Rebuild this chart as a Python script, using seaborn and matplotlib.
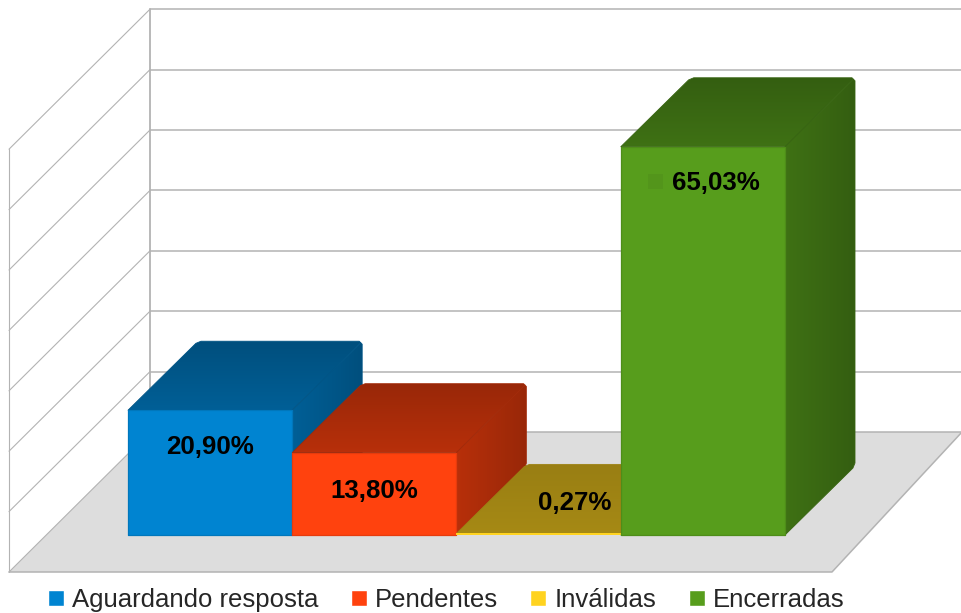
import numpy as np
import pandas as pd
import matplotlib
matplotlib.use("Agg")
import matplotlib.pyplot as plt
from matplotlib.colors import to_rgb
from matplotlib.patches import Polygon, Rectangle
import seaborn as sns

# ---- data ----
categories = ["Aguardando resposta", "Pendentes", "Inválidas", "Encerradas"]
values = [20.90, 13.80, 0.27, 65.03]
value_labels = ["20,90%", "13,80%", "0,27%", "65,03%"]
bar_colors = ["#0084d1", "#ff420e", "#ffd320", "#579d1c"]
grid_values = [0, 10, 20, 30, 40, 50, 60, 70]

# ---- layout (pixels) ----
W, H = 962, 613
PX_X, PX_Y = 164.25, 5.97     # pixels per category / per percentage point
BASE_X, BASE_Y = 128, 535     # front-left bar corner on the baseline
DEPTH = (70, 69)              # bar depth projection
WALL = (22, 103)              # back wall base relative to bar base
FLOOR_DEPTH = 141
GRID_PX = 60.4                # wall gridline spacing
CH = 3.0                      # size of the softened back corners
label_offsets = [(0, -37), (0, -38), (36, 30), (13, -36)]
front_shade = [0.72, 0.72, 0.65, 0.72]
edge_widths = [0.9, 0.9, 0.0, 0.9]
GRID = "#b3b3b3"

sns.set_theme(style="white")
plt.rcParams["font.family"] = ["Liberation Sans", "DejaVu Sans"]

fig = plt.figure(figsize=(W / 100, H / 100), dpi=100)
ax = fig.add_axes([0, 0, 1, 1])

df = pd.DataFrame({"categoria": categories, "valor": values})
sns.barplot(data=df, x="categoria", y="valor", hue="categoria", hue_order=categories,
            palette=bar_colors, width=1, saturation=1, dodge=False, legend=True, ax=ax)

xlim = (-0.5 - BASE_X / PX_X, -0.5 + (W - BASE_X) / PX_X)
ylim = (-(H - BASE_Y) / PX_Y, BASE_Y / PX_Y)


def shift(x, y, dx=0.0, dy=0.0):
    """Data coordinates moved by a projection offset in pixels (dy upward)."""
    return x + dx / PX_X, y + dy / PX_Y


# ---- walls and floor ----
wx0, wy0 = shift(-0.5, 0, WALL[0], WALL[1])
wx1 = xlim[1]
fx0, fy0 = shift(wx0, wy0, -FLOOR_DEPTH, -140)
fx1, _ = shift(wx1, wy0, -130, -140)
ax.add_patch(Polygon([(fx0, fy0), (wx0, wy0), (wx1, wy0), (fx1, fy0)], closed=True,
                     facecolor="#dddddd", edgecolor="none", zorder=1))
ax.plot([fx0, fx1, wx1], [fy0, fy0, wy0], color=GRID, lw=1.1, zorder=1.5)
grid_ys = [wy0 + g / 10 * GRID_PX / PX_Y for g in grid_values]
for gy in grid_ys:
    ax.plot([wx0, wx1], [gy, gy], color=GRID, lw=1.1, zorder=1.5)
    lx, ly = shift(wx0, gy, -FLOOR_DEPTH, -140)
    ax.plot([lx, wx0], [ly, gy], color=GRID, lw=0.8, zorder=1.5)
ax.plot([wx0, wx0], [grid_ys[0], grid_ys[-1]], color=GRID, lw=1.3, zorder=1.5)
top_left = shift(wx0, grid_ys[-1], -FLOOR_DEPTH, -140)
ax.plot([fx0, fx0], [fy0, top_left[1]], color=GRID, lw=0.8, zorder=1.5)


def shaded_face(poly, color, s0, s1, horizontal, z):
    """Face filled with a soft shade gradient from s0 to s1, clipped to the polygon."""
    pts = np.array(poly)
    t = np.linspace(s0, s1, 64)[:, None] * np.array(to_rgb(color))
    img = t[None, :, :] if horizontal else t[:, None, :]
    extent = (pts[:, 0].min(), pts[:, 0].max(), pts[:, 1].min(), pts[:, 1].max())
    im = ax.imshow(img, extent=extent, origin="lower", aspect="auto",
                   interpolation="bilinear", zorder=z)
    clip = Polygon(pts, closed=True, transform=ax.transData)
    im.set_clip_path(clip)
    edge = tuple(np.array(to_rgb(color)) * (s0 * 0.3 + s1 * 0.7))
    ax.add_patch(Polygon(pts, closed=True, facecolor="none", edgecolor=edge, lw=0.6,
                         joinstyle="round", zorder=z + 0.01))


# ---- bars: front faces come from seaborn, top and side are projected from them ----
bars = sorted([p for p in ax.patches if isinstance(p, Rectangle) and p.get_height() > 0],
              key=lambda p: p.get_x())
for i, bar in enumerate(bars):
    col = bar_colors[i]
    x0, x1 = bar.get_x(), bar.get_x() + bar.get_width()
    h = bar.get_height()
    z = 3 + i
    bx0, by0 = shift(x0, h, *DEPTH)
    bx1, by1 = shift(x1, h, *DEPTH)
    sx1, sy1 = shift(x1, 0, *DEPTH)
    mid = shift(bx1, by1, -CH / 2, -CH / 2)
    top_poly = [(x0, h), (x1, h), mid, shift(bx1, by1, -CH, 0),
                shift(bx0, by0, CH, 0), shift(bx0, by0, -CH * 0.7, -CH * 0.7)]
    side_poly = [(x1, 0), shift(sx1, sy1, -CH * 0.7, -CH * 0.7), shift(sx1, sy1, 0, CH),
                 shift(bx1, by1, 0, -CH), mid, (x1, h)]
    shaded_face(top_poly, col, front_shade[i], 0.60, False, z)
    shaded_face(side_poly, col, front_shade[i], 0.60, True, z + 0.1)
    bar.set_zorder(z + 0.2)
    bar.set_edgecolor(tuple(np.array(to_rgb(col)) * 0.9))
    bar.set_linewidth(edge_widths[i])
    bar.set_joinstyle("round")
    ax.annotate(value_labels[i], xy=(bar.get_x() + bar.get_width() / 2, h),
                xytext=label_offsets[i], textcoords="offset pixels",
                ha="center", va="center", fontsize=18.6, fontweight="bold",
                color="black", zorder=20)

# faint legend key beside the green bar's label
gb = bars[3]
kx, ky = shift(gb.get_x(), gb.get_height(), 27, -42)
ax.add_patch(Rectangle((kx, ky), 15 / PX_X, 15 / PX_Y, facecolor="#53951b",
                       edgecolor="none", zorder=19))

ax.set_xlim(xlim)
ax.set_ylim(ylim)
ax.set_axis_off()

sns.move_legend(ax, "center", bbox_to_anchor=(446 / W, 1 - 600 / H), ncol=4, frameon=False,
                title=None, fontsize=18.5, handlelength=0.62, handleheight=0.62,
                handletextpad=0.31, columnspacing=1.27, borderpad=0, borderaxespad=0)

fig.savefig("out.png", dpi=100, facecolor="white")
